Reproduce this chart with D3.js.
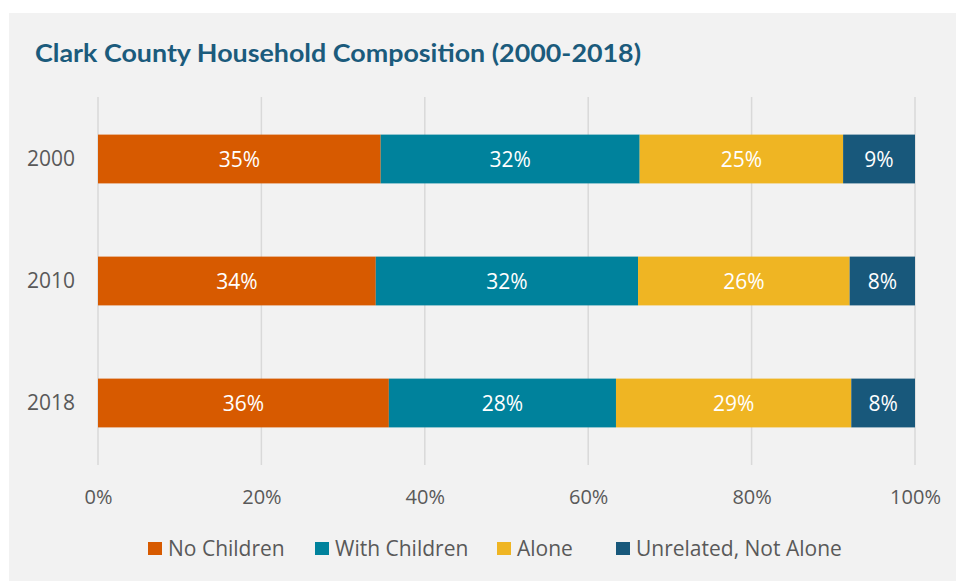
<!DOCTYPE html>
<html><head><meta charset="utf-8">
<script src="https://cdn.jsdelivr.net/npm/d3@7"></script>
<style>body{margin:0;background:#fff;}svg{display:block;}</style>
</head><body>
<svg id="chart" width="956" height="581"></svg>
<script>
const years = ["2000", "2010", "2018"];
const seriesNames = ["No Children", "With Children", "Alone", "Unrelated, Not Alone"];
const noChildren = [34.6, 34.0, 35.6];
const withChildren = [31.7, 32.1, 27.8];
const alone = [24.9, 25.9, 28.8];
const unrelated = [8.8, 8.0, 7.8];
const valueLabels = [
  ["35%", "32%", "25%", "9%"],
  ["34%", "32%", "26%", "8%"],
  ["36%", "28%", "29%", "8%"]
];
const xTicks = [0, 20, 40, 60, 80, 100];
const colors = ["#d75a00", "#00829c", "#efb523", "#18587b"];

const svg = d3.select("#chart");
svg.append("rect").attr("x", 9).attr("y", 13).attr("width", 947).attr("height", 568).attr("fill", "#f2f2f2");

svg.append("text").attr("x", 35).attr("y", 62)
  .attr("font-family", "Lato, sans-serif").attr("font-weight", 700).attr("font-size", 24)
  .attr("fill", "#1b5b7c").attr("textLength", 606).attr("lengthAdjust", "spacingAndGlyphs")
  .text("Clark County Household Composition (2000-2018)");

const x = d3.scaleLinear().domain([0, 100]).range([98, 915]);
const y = d3.scaleBand().domain(years).range([98, 464]).paddingInner(0.6).paddingOuter(0.3);

const font = "'Open Sans', sans-serif";

// gridlines
svg.append("g").selectAll("line").data(xTicks).join("line")
  .attr("x1", d => x(d)).attr("x2", d => x(d)).attr("y1", 97).attr("y2", 465)
  .attr("stroke", "#d9d9d9").attr("stroke-width", 1.5);

// x axis labels
const xAxis = d3.axisBottom(x).tickValues(xTicks).tickFormat(d => d + "%").tickSize(0).tickPadding(0);
const gx = svg.append("g").attr("transform", "translate(0,490)").call(xAxis);
gx.select(".domain").remove();
gx.selectAll("text").attr("font-family", font).attr("font-size", 20).attr("fill", "#595959");

// y axis labels
const yAxis = d3.axisLeft(y).tickSize(0).tickPadding(0);
const gy = svg.append("g").attr("transform", "translate(75,0)").call(yAxis);
gy.select(".domain").remove();
gy.selectAll("text").attr("font-family", font).attr("font-size", 21).attr("fill", "#595959");

const table = years.map((yr, i) => ({year: yr, vals: [noChildren[i], withChildren[i], alone[i], unrelated[i]], labels: valueLabels[i]}));
const stacked = table.map(row => {
  let acc = 0;
  return row.vals.map((v, k) => { const s = {year: row.year, k, x0: acc, x1: acc + v, label: row.labels[k]}; acc += v; return s; });
}).flat();

const gb = svg.append("g");
gb.selectAll("rect").data(stacked).join("rect")
  .attr("x", d => x(d.x0)).attr("width", d => x(d.x1) - x(d.x0))
  .attr("y", d => y(d.year)).attr("height", y.bandwidth())
  .attr("fill", d => colors[d.k]);
gb.selectAll("text").data(stacked).join("text")
  .attr("x", d => (x(d.x0) + x(d.x1)) / 2).attr("y", d => y(d.year) + y.bandwidth() / 2)
  .attr("dy", "0.36em").attr("text-anchor", "middle")
  .attr("font-family", font).attr("font-size", 21).attr("fill", "#ffffff")
  .text(d => d.label);

// legend
const legX = [148, 315, 497, 616];
const lg = svg.append("g");
seriesNames.forEach((n, i) => {
  lg.append("rect").attr("x", legX[i]).attr("y", 542).attr("width", 14).attr("height", 13).attr("fill", colors[i]);
  lg.append("text").attr("x", legX[i] + 20).attr("y", 549).attr("dy", "0.35em")
    .attr("font-family", font).attr("font-size", 21).attr("fill", "#595959").text(n);
});
</script>
</body></html>
